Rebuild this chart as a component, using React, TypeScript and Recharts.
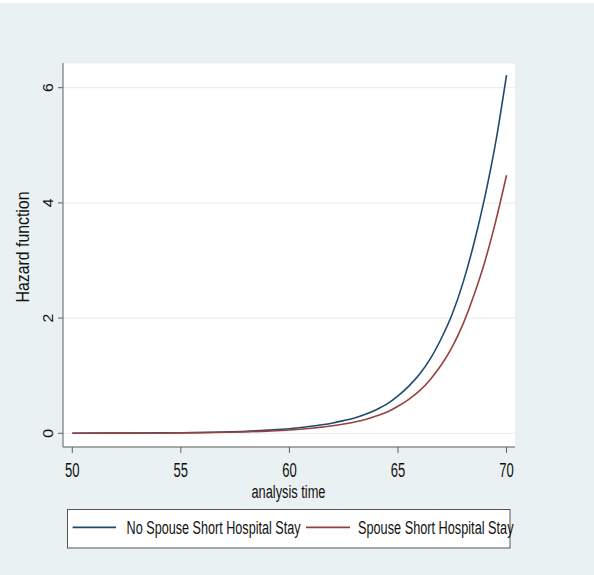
import React from "react";
import { LineChart, Line, XAxis, YAxis, CartesianGrid } from "recharts";

const times = [50, 51, 52, 53, 54, 55, 56, 57, 58, 59, 60, 60.5, 61, 61.5, 62, 62.5, 63, 63.5, 64, 64.5, 65, 65.5, 66, 66.5, 67, 67.5, 68, 68.5, 69, 69.5, 70];
const noSpouse = [0.002, 0.003, 0.004, 0.005, 0.007, 0.01, 0.015, 0.023, 0.035, 0.055, 0.08, 0.1, 0.122, 0.148, 0.18, 0.22, 0.265, 0.33, 0.41, 0.51, 0.65, 0.82, 1.03, 1.3, 1.65, 2.07, 2.62, 3.3, 4.1, 5.05, 6.22];
const spouse = [0.0015, 0.002, 0.003, 0.004, 0.005, 0.007, 0.011, 0.017, 0.025, 0.038, 0.056, 0.07, 0.087, 0.107, 0.13, 0.16, 0.195, 0.24, 0.3, 0.37, 0.47, 0.59, 0.74, 0.94, 1.19, 1.5, 1.9, 2.4, 2.98, 3.68, 4.48];
const xTicks = [50, 55, 60, 65, 70];
const yTicks = [0, 2, 4, 6];
const seriesNames = ["No Spouse Short Hospital Stay", "Spouse Short Hospital Stay"];
const xTitle = "analysis time";
const yTitle = "Hazard function";

const data = times.map((t, i) => ({ t, a: noSpouse[i], b: spouse[i] }));

const FONT = "'Liberation Sans', Arial, sans-serif";
const BLUE = "#1f4a6e";
const RED = "#98403f";
const AXIS = "#5f5f5f";

const XTick = (props: any) => {
  const { x, y, payload } = props;
  return (
    <text x={x} y={y + 22} textAnchor="middle" fontFamily={FONT} fontSize={19.5} fill="#111"
      textLength={14.5} lengthAdjust="spacingAndGlyphs">
      {String(payload.value)}
    </text>
  );
};

const YTick = (props: any) => {
  const { x, y, payload } = props;
  const bx = x - 2.7;
  return (
    <text x={bx} y={y} transform={`rotate(-90, ${bx}, ${y})`} textAnchor="middle" fontFamily={FONT}
      fontSize={14} fill="#111" textLength={8.8} lengthAdjust="spacingAndGlyphs">
      {String(payload.value)}
    </text>
  );
};

export default function App() {
  return (
    <div style={{ position: "absolute", left: 0, top: 0, width: 594, height: 575, background: "#eaf1f3", overflow: "hidden" }}>
      <div style={{ position: "absolute", left: 0, top: 0, width: 594, height: 3, background: "#ffffff" }} />
      <LineChart width={594} height={575} data={data} margin={{ top: 63, right: 79, bottom: 0, left: 0 }}>
        <CartesianGrid vertical={false} horizontal={true} fill="#ffffff" stroke="#e6edf0" strokeWidth={1} />
        <XAxis dataKey="t" type="number" domain={[49.572, 70.39]} ticks={xTicks} allowDataOverflow
          height={128} tickSize={6} stroke={AXIS} tickLine={{ stroke: AXIS }} tick={<XTick />} interval={0} />
        <YAxis type="number" domain={[-0.238, 6.429]} ticks={yTicks} allowDataOverflow width={63}
          tickSize={5} stroke={AXIS} tickLine={{ stroke: AXIS }} tick={<YTick />} interval={0} />
        <Line type="monotone" dataKey="a" stroke={BLUE} strokeWidth={1.6} dot={false} isAnimationActive={false} />
        <Line type="monotone" dataKey="b" stroke={RED} strokeWidth={1.6} dot={false} isAnimationActive={false} />
      </LineChart>
      <svg width={594} height={575} style={{ position: "absolute", left: 0, top: 0, pointerEvents: "none" }}>
        <text x={288.5} y={498} textAnchor="middle" fontFamily={FONT} fontSize={18} fill="#111"
          textLength={74} lengthAdjust="spacingAndGlyphs">{xTitle}</text>
        <text x={29} y={247} transform="rotate(-90, 29, 247)" textAnchor="middle" fontFamily={FONT} fontSize={18.5}
          fill="#111" textLength={111} lengthAdjust="spacingAndGlyphs">{yTitle}</text>
        <rect x={67.5} y={509.5} width={442.5} height={38.5} fill="#ffffff" stroke="#555" strokeWidth={1} />
        <line x1={72.6} x2={116} y1={527.3} y2={527.3} stroke={BLUE} strokeWidth={1.8} />
        <text x={126.6} y={533.5} fontFamily={FONT} fontSize={18} fill="#111" textLength={174}
          lengthAdjust="spacingAndGlyphs">{seriesNames[0]}</text>
        <line x1={306} x2={350} y1={527.3} y2={527.3} stroke={RED} strokeWidth={1.8} />
        <text x={358} y={533.5} fontFamily={FONT} fontSize={18} fill="#111" textLength={155.5}
          lengthAdjust="spacingAndGlyphs">{seriesNames[1]}</text>
      </svg>
    </div>
  );
}
